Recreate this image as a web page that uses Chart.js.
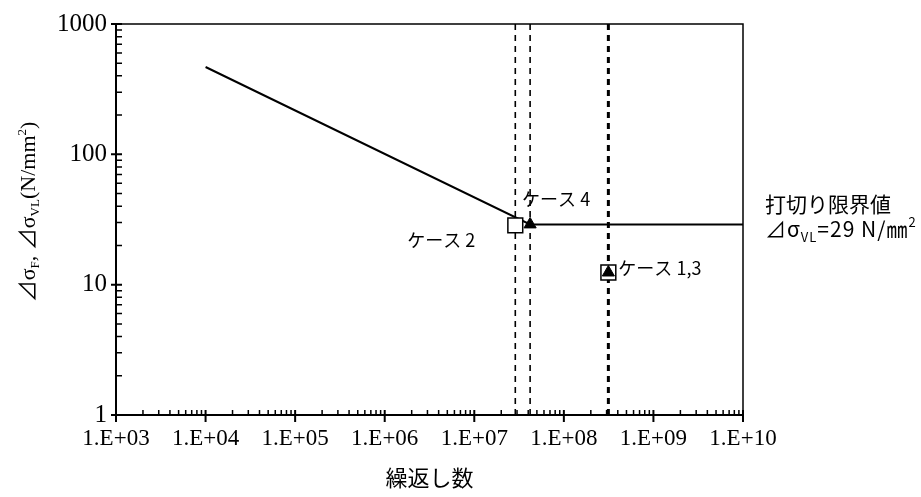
<!DOCTYPE html>
<html>
<head>
<meta charset="utf-8">
<script src="https://cdn.jsdelivr.net/npm/chart.js@4.4.0/dist/chart.umd.min.js"></script>
<style>
  html, body { margin: 0; padding: 0; background: #fff; }
  #wrap { width: 921px; height: 497px; }
</style>
</head>
<body>
<div id="wrap"><canvas id="sn-chart" width="921" height="497"></canvas></div>
<script>
// S-N curve (D class) with the cut-off limit
const snCycles = [1e4, 4.2e7, 1e10];
const snStress = [468, 29, 29];

// case points: squares = ケース1, ケース2 / triangles = ケース3, ケース4
const squareCycles = [3.14e8, 2.87e7];
const squareStress = [12.4, 28.5];
const triangleCycles = [3.14e8, 4.2e7];
const triangleStress = [12.4, 29];

// dashed verticals at each case's cycle count (ケース2, ケース4, ケース1・3)
const caseLineCycles = [2.87e7, 4.2e7, 3.14e8];
const caseLabels = ['ケース 2', 'ケース 4', 'ケース 1,3'];

const xTickValues = [1e3, 1e4, 1e5, 1e6, 1e7, 1e8, 1e9, 1e10];
const yTickValues = [1, 10, 100, 1000];

const fmtCycles = v => '1.E+' + String(Math.round(Math.log10(v))).padStart(2, '0');
const CJK = '"Noto Sans CJK JP", "Noto Sans", sans-serif';
const SERIF = '"Liberation Serif", "Noto Sans CJK JP", serif';

// draws a run of text pieces with their own size / vertical shift
function drawRuns(ctx, runs, family, x, y, align) {
    let total = 0;
    runs.forEach(r => { ctx.font = r.s + 'px ' + family; r.w = ctx.measureText(r.t).width; total += r.w; });
    let cx = align === 'center' ? x - total / 2 : x;
    ctx.textAlign = 'left';
    ctx.textBaseline = 'alphabetic';
    runs.forEach(r => {
        ctx.font = r.s + 'px ' + family;
        ctx.fillText(r.t, cx, y + (r.dy || 0));
        cx += r.w;
    });
}

const decor = {
    id: 'decor',
    afterDraw(chart) {
        const { ctx, chartArea: a, scales: { x, y } } = chart;
        ctx.save();
        ctx.strokeStyle = '#000';
        ctx.fillStyle = '#000';

        // top and right frame
        ctx.lineWidth = 1.5;
        ctx.beginPath();
        ctx.moveTo(a.left, a.top);
        ctx.lineTo(a.right, a.top);
        ctx.lineTo(a.right, a.bottom);
        ctx.stroke();

        // y ticks: major crossing, minor inside
        ctx.beginPath();
        ctx.lineWidth = 2;
        yTickValues.forEach(v => {
            const p = y.getPixelForValue(v);
            ctx.moveTo(a.left - 5, p); ctx.lineTo(a.left + 6, p);
        });
        ctx.stroke();
        ctx.beginPath();
        ctx.lineWidth = 1.5;
        yTickValues.slice(0, -1).forEach(v => {
            for (let m = 2; m <= 9; m++) {
                const p = y.getPixelForValue(v * m);
                ctx.moveTo(a.left, p); ctx.lineTo(a.left + 6, p);
            }
        });
        ctx.stroke();

        // x ticks
        ctx.beginPath();
        ctx.lineWidth = 2;
        xTickValues.forEach(v => {
            const p = x.getPixelForValue(v);
            ctx.moveTo(p, a.bottom - 5); ctx.lineTo(p, a.bottom + 7);
        });
        ctx.stroke();
        ctx.beginPath();
        ctx.lineWidth = 1.5;
        xTickValues.slice(0, -1).forEach(v => {
            for (let m = 2; m <= 9; m++) {
                const p = x.getPixelForValue(v * m);
                ctx.moveTo(p, a.bottom); ctx.lineTo(p, a.bottom - 5);
            }
        });
        ctx.stroke();

        // case labels
        ctx.font = '18px ' + CJK;
        ctx.textBaseline = 'middle';
        ctx.textAlign = 'right';
        ctx.fillText(caseLabels[0], x.getPixelForValue(caseLineCycles[0]) - 40, 240);
        ctx.textAlign = 'left';
        ctx.fillText(caseLabels[1], x.getPixelForValue(caseLineCycles[1]) - 8, 199);
        ctx.fillText(caseLabels[2], x.getPixelForValue(caseLineCycles[2]) + 10, 268);

        // cut-off note on the right
        ctx.font = '21px ' + CJK;
        ctx.fillText('打切り限界値', a.right + 22, 204);
        if ('letterSpacing' in ctx) ctx.letterSpacing = '1px';
        drawRuns(ctx, [
            { t: '⊿σ', s: 21 },
            { t: 'VL', s: 13, dy: 5 },
            { t: '=29 N/㎜', s: 21 },
            { t: '2', s: 13, dy: -10 }
        ], CJK, a.right + 22, 237, 'left');
        if ('letterSpacing' in ctx) ctx.letterSpacing = '0px';

        // x title
        ctx.font = '22px ' + CJK;
        ctx.textAlign = 'center';
        ctx.textBaseline = 'middle';
        ctx.fillText('繰返し数', (x.getPixelForValue(1e6) + x.getPixelForValue(1e7)) / 2, 478);

        // y title (rotated)
        ctx.save();
        ctx.translate(35, 212);
        ctx.rotate(-Math.PI / 2);
        drawRuns(ctx, [
            { t: '⊿σ', s: 22 },
            { t: 'F', s: 13, dy: 4 },
            { t: ', ', s: 22 },
            { t: '⊿σ', s: 22 },
            { t: 'VL', s: 13, dy: 4 },
            { t: '(N/mm', s: 22 },
            { t: '2', s: 13, dy: -9 },
            { t: ')', s: 22 }
        ], SERIF, 0, 0, 'center');
        ctx.restore();

        ctx.restore();
    }
};

const pts = (xs, ys) => xs.map((v, i) => ({ x: v, y: ys[i] }));

const datasets = [
    {
        label: 'triangles', data: pts(triangleCycles, triangleStress),
        pointStyle: 'triangle', pointRadius: 7, backgroundColor: '#000', borderColor: '#000', borderWidth: 1, showLine: false
    },
    {
        label: 'squares', data: pts(squareCycles, squareStress),
        pointStyle: 'rect', pointRadius: 10.5, backgroundColor: '#fff', borderColor: '#000', borderWidth: 1.5, showLine: false
    },
    {
        label: 'S-N', data: pts(snCycles, snStress),
        showLine: true, borderColor: '#000', borderWidth: 2, pointRadius: 0, tension: 0
    }
];
caseLineCycles.forEach((n, i) => {
    datasets.push({
        label: 'case-line-' + i,
        data: [{ x: n, y: yTickValues[yTickValues.length - 1] }, { x: n, y: yTickValues[0] }],
        showLine: true, borderColor: '#000', borderWidth: i === 2 ? 3 : 1.6,
        borderDash: [6, 5], pointRadius: 0
    });
});

new Chart(document.getElementById('sn-chart'), {
    type: 'scatter',
    data: { datasets },
    options: {
        responsive: false,
        animation: false,
        devicePixelRatio: 1,
        layout: { padding: { left: 0, right: 178, top: 18, bottom: 0 } },
        plugins: { legend: { display: false }, tooltip: { enabled: false } },
        scales: {
            x: {
                type: 'logarithmic', position: 'bottom', min: 1e3, max: 1e10,
                afterBuildTicks: s => { s.ticks = xTickValues.map(v => ({ value: v })); },
                afterFit: s => { s.height = 82; },
                grid: { display: false, drawTicks: false },
                border: { display: true, color: '#000', width: 2 },
                ticks: {
                    callback: v => fmtCycles(v), autoSkip: false, maxRotation: 0,
                    font: { family: SERIF, size: 23 }, color: '#000', padding: 10
                }
            },
            y: {
                type: 'logarithmic', position: 'left', min: 1, max: 1000,
                afterBuildTicks: s => { s.ticks = yTickValues.map(v => ({ value: v })); },
                afterFit: s => { s.width = 116; },
                grid: { display: false, drawTicks: false },
                border: { display: true, color: '#000', width: 2 },
                ticks: {
                    callback: v => String(v), autoSkip: false,
                    font: { family: SERIF, size: 25 }, color: '#000', padding: 9
                }
            }
        }
    },
    plugins: [decor]
});
</script>
</body>
</html>
